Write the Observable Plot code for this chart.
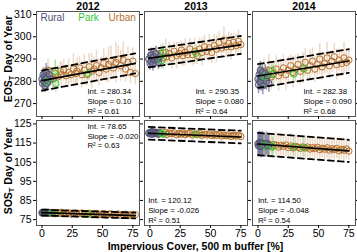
<!DOCTYPE html>
<html><head><meta charset="utf-8">
<script src="https://cdn.jsdelivr.net/npm/d3@7"></script>
<script src="https://cdn.jsdelivr.net/npm/@observablehq/plot@0.6"></script>
<style>
html,body{margin:0;padding:0;background:#fff;}
#chart svg{display:block;overflow:visible;}
</style></head><body><div id="chart"></div>
<script>
const years = ["2012", "2013", "2014"];
const groups = ["Rural", "Park", "Urban"];
const xTicks = [0, 25, 50, 75];
const eosTicks = [270, 280, 290, 300, 310];
const sosTicks = [75, 85, 95, 105, 115, 125];

// ---- 2012 ----
const urbanX12 = [5,7,9,11,13,15,16,18,20,22,24,26,28,29,31,33,35,37,39,41,43,45,47,49,51,53,55,57,59,61,63,65,67,69,71,73,75,77];
const eosU12 = [285.0,282.5,281.0,283.5,282.0,284.5,283.0,285.0,282.5,284.0,283.0,285.5,283.5,284.5,286.0,283.0,285.0,283.0,286.5,284.5,285.5,287.0,284.0,286.0,288.0,285.5,287.5,289.0,286.0,288.5,290.0,287.0,289.5,285.5,288.5,284.0,289.0,283.5];
const eosUe12 = [5,4,5,6,5,4,6,5,5,6,4,7,5,6,5,6,7,5,6,8,5,7,6,5,7,6,8,7,5,9,6,7,8,6,7,5,6,5];
const sosU12 = [78.9,78.3,78.7,78.1,78.6,78.2,78.8,78.0,78.4,78.6,77.9,78.3,78.5,77.8,78.2,78.4,77.7,78.1,78.3,77.6,78.0,78.2,77.5,77.9,78.1,77.4,77.8,78.0,77.3,77.7,77.9,77.2,77.6,77.8,77.1,77.5,77.7,77.6];
const sosUe12 = [1.2,1,1.3,1,1.1,1.2,1,1.3,1.1,1,1.2,1,1.3,1.1,1,1.2,1.1,1,1.3,1.2,1,1.1,1.2,1,1.3,1.1,1,1.2,1.1,1,1.2,1.3,1,1.1,1.2,1,1.1,1.2];
const ruralX12 = [0,0.5,1,1.5,2,2.5,3,3.5,4,4.5,5,6,7];
const eosR12 = [281,279,283,280,282,278,281,284,279,282,280,283,281];
const eosRe12 = [3,4,3,3,4,3,3,4,3,3,4,3,3];
const sosR12 = [78.6,78.3,78.8,78.5,78.7,78.4,78.9,78.5,78.6,78.3,78.7,78.5,78.6];
const sosRe12 = [0.8,0.9,0.8,0.8,0.9,0.8,0.8,0.9,0.8,0.8,0.9,0.8,0.8];
const parkX12 = [4,11,11.5,38];
const eosP12 = [280,284.5,279,283.5];
const eosPe12 = [4,5,4,3];
const sosP12 = [78.4,78.3,78.2,78.0];
const sosPe12 = [0.8,0.8,0.8,0.8];

// ---- 2013 ----
const urbanX13 = [5,7,9,11,13,14,16,18,20,22,24,26,27,29,31,33,35,37,39,41,43,45,47,49,51,53,55,57,59,61,63,65,67,69,71,73,75];
const eosU13 = [292.0,290.0,292.5,290.5,293.0,291.0,292.5,290.5,293.5,291.5,292.5,294.0,291.5,293.0,292.0,294.5,292.0,293.5,291.5,294.5,293.0,295.5,293.5,295.0,293.0,296.0,294.5,297.5,295.0,298.5,295.5,297.0,295.5,297.5,296.0,298.0,296.5];
const eosUe13 = [4,5,4,5,6,4,5,5,4,6,5,4,5,6,4,5,5,6,4,5,6,5,4,6,5,5,6,5,4,6,5,5,6,4,5,5,4];
const sosU13 = [120.5,119.6,120.3,119.8,120.6,119.5,120.2,119.9,120.4,119.3,120.0,119.7,120.3,119.4,119.9,120.1,119.2,119.8,119.5,120.0,119.1,119.6,119.3,119.8,118.9,119.4,119.1,119.6,118.7,119.2,118.9,119.3,118.5,119.0,118.7,119.1,118.4];
const sosUe13 = [2.5,3,2,2.5,3,2.5,2,3,2.5,2,3,2.5,2,3,2.5,2.5,3,2,2.5,3,2.5,2,3,2.5,2,3,2.5,2,3,2.5,2.5,3,2,2.5,3,2.5,2];
const ruralX13 = [-1,0,0.5,1,1.5,2,2.5,3,4,5,6,7,8];
const eosR13 = [290,288,291.5,289,292,290.5,287.5,291,289.5,292.5,290,288.5,291];
const eosRe13 = [3,3,3,3,3,3,3,3,3,3,3,3,3];
const sosR13 = [120.3,119.8,120.6,120.1,121,119.6,120.4,120.8,119.9,120.5,120.2,119.7,120.3];
const sosRe13 = [1.8,1.8,1.8,1.8,1.8,1.8,1.8,1.8,1.8,1.8,1.8,1.8,1.8];
const parkX13 = [9.6,10.7,38];
const eosP13 = [289.3,293,292.6];
const eosPe13 = [4,4,4];
const sosP13 = [120,119.8,119.5];
const sosPe13 = [2,2,2];

// ---- 2014 ----
const urbanX14 = [5,7,9,11,13,15,17,19,21,23,25,27,29,31,33,35,37,39,41,43,45,47,49,51,53,55,57,59,61,63,65,67,69,71,73,75];
const eosU14 = [284.5,281.5,285.0,282.0,283.5,285.5,282.5,284.0,286.0,283.0,285.0,287.0,284.0,285.5,287.5,284.5,286.0,288.5,285.0,287.0,289.0,285.5,287.5,290.0,286.5,288.0,290.5,287.0,289.0,291.0,287.5,289.5,288.0,290.5,288.5,289.5];
const eosUe14 = [6,5,7,6,5,6,7,5,6,7,6,5,7,6,5,6,7,6,5,7,6,6,5,7,6,5,7,6,5,6,7,5,6,7,6,5];
const sosU14 = [114.8,113.6,114.5,113.2,114.2,113.9,112.9,113.8,113.3,114.0,112.7,113.5,112.5,113.3,112.8,112.2,113.0,112.4,112.9,111.9,112.6,112.1,112.8,111.6,112.3,111.8,112.5,111.3,112.0,111.6,112.2,111.0,111.7,111.3,111.9,110.8];
const sosUe14 = [5,6,5.5,6,5,6.5,5.5,6,5,6,5.5,6.5,5,6,5.5,6,5,6.5,5.5,6,5,6,5.5,6.5,5,6,5.5,6,5,6.5,5.5,6,5,6,5.5,5];
const ruralX14 = [0,0.5,1,1.5,2,2.5,3,3.5,4,5,6,7,8,9];
const eosR14 = [281,278.5,283,280,285,279.5,282,284,278,281.5,283.5,280,282.5,279];
const eosRe14 = [4,4,4,4,4,4,4,4,4,4,4,4,4,4];
const sosR14 = [114.5,113.5,115.2,114,114.8,113.2,114.6,115,113.8,114.3,113.6,114.9,114.1,113.7];
const sosRe14 = [6,6,6,6,6,6,6,6,6,6,6,6,6,6];
const parkX14 = [5,11.9,12,29.6,37.8];
const eosP14 = [282,284.8,283.1,283.3,285.6];
const eosPe14 = [4,4,4,4,4];
const sosP14 = [113.8,112.9,113.3,113,112.6];
const sosPe14 = [5,5,5,5,5];

// ---- fit statistics ----
const eosInt = [280.34, 290.35, 282.38];
const eosSlope = [0.10, 0.080, 0.090];
const eosSlopeTxt = ["0.10", "0.080", "0.090"];
const eosR2 = ["0.61", "0.64", "0.68"];
const eosBand = [4.5, 4.0, 5.3];
const sosInt = [78.65, 120.12, 114.50];
const sosSlope = [-0.020, -0.026, -0.048];
const sosSlopeTxt = ["-0.020", "-0.026", "-0.048"];
const sosR2 = ["0.63", "0.51", "0.54"];
const sosBand = [1.5, 3.3, 5.8];

// ---- build tables ----
function rows(year, group, xs, ys, es) { return xs.map((x, i) => ({year, group, x, y: ys[i], e: es[i]})); }
const eosData = [
  ...rows("2012","Rural",ruralX12,eosR12,eosRe12), ...rows("2012","Park",parkX12,eosP12,eosPe12), ...rows("2012","Urban",urbanX12,eosU12,eosUe12),
  ...rows("2013","Rural",ruralX13,eosR13,eosRe13), ...rows("2013","Park",parkX13,eosP13,eosPe13), ...rows("2013","Urban",urbanX13,eosU13,eosUe13),
  ...rows("2014","Rural",ruralX14,eosR14,eosRe14), ...rows("2014","Park",parkX14,eosP14,eosPe14), ...rows("2014","Urban",urbanX14,eosU14,eosUe14)
];
const sosData = [
  ...rows("2012","Rural",ruralX12,sosR12,sosRe12), ...rows("2012","Park",parkX12,sosP12,sosPe12), ...rows("2012","Urban",urbanX12,sosU12,sosUe12),
  ...rows("2013","Rural",ruralX13,sosR13,sosRe13), ...rows("2013","Park",parkX13,sosP13,sosPe13), ...rows("2013","Urban",urbanX13,sosU13,sosUe13),
  ...rows("2014","Rural",ruralX14,sosR14,sosRe14), ...rows("2014","Park",parkX14,sosP14,sosPe14), ...rows("2014","Urban",urbanX14,sosU14,sosUe14)
];
const xExtent = {
  "2012": d3.extent([...ruralX12, ...parkX12, ...urbanX12]),
  "2013": d3.extent([...ruralX13, ...parkX13, ...urbanX13]),
  "2014": d3.extent([...ruralX14, ...parkX14, ...urbanX14])
};
function fitRows(ints, slopes, bands, off) {
  return years.flatMap((year, i) => xExtent[year].map(x => ({year, x, y: ints[i] + slopes[i] * x + off * bands[i]})));
}
function statRows(ints, slopesTxt, r2) {
  return years.map((year, i) => ({year, text: `Int. = ${ints[i].toFixed(2)}\nSlope = ${slopesTxt[i]}\nR² = ${r2[i]}`}));
}
const eosStats = statRows(eosInt, eosSlopeTxt, eosR2);
const sosStats = statRows(sosInt, sosSlopeTxt, sosR2);

const colors = {Rural: "#4f4f72", Park: "#2ec82e", Urban: "#b5702c"};
const errColors = {Rural: "#6e6e92", Park: "#86e086", Urban: "#dcb48e"};
const font = "'Liberation Sans', Arial, sans-serif";

function dataMarks(data, ints, slopes, bands) {
  const byG = g => data.filter(d => d.group === g);
  const marks = [];
  for (const g of ["Urban", "Rural", "Park"]) {
    marks.push(Plot.ruleX(byG(g), {fx: "year", x: "x", y1: d => d.y - d.e, y2: d => d.y + d.e,
      stroke: errColors[g], strokeOpacity: g === "Rural" ? 0.7 : 0.5, strokeWidth: 1.5}));
  }
  for (const g of ["Urban", "Rural", "Park"]) {
    marks.push(Plot.dot(byG(g), {fx: "year", x: "x", y: "y", r: 3.2, stroke: colors[g], strokeWidth: 1,
      fill: g === "Rural" ? "#8a8aa8" : "none", fillOpacity: 0.35}));
  }
  for (const off of [1, -1]) {
    marks.push(Plot.line(fitRows(ints, slopes, bands, off), {fx: "year", x: "x", y: "y", stroke: "#000", strokeWidth: 1.8, strokeDasharray: "6,4"}));
  }
  marks.push(Plot.line(fitRows(ints, slopes, bands, 0), {fx: "year", x: "x", y: "y", stroke: "#000", strokeWidth: 1.7}));
  return marks;
}

const common = {
  width: 357, marginLeft: 36, marginRight: 2,
  fx: {domain: years, paddingInner: 0.047, paddingOuter: 0, label: null},
  x: {domain: [-4.5, 80.5]},
  style: {fontFamily: font, fontSize: "10.5px", color: "#000", background: "transparent", overflow: "visible"}
};

const topPlot = Plot.plot({
  ...common,
  height: 119, marginTop: 11, marginBottom: 3,
  y: {domain: [264.2, 311.35]},
  marks: [
    ...dataMarks(eosData, eosInt, eosSlope, eosBand),
    Plot.frame({stroke: "#555", strokeWidth: 1}),
    Plot.axisFx({anchor: "top", tickSize: 0, tickPadding: 2, label: null, fontWeight: "bold", fontSize: 10.5}),
    Plot.axisY({ticks: eosTicks, tickSize: 3, tickPadding: 2, label: null}),
    Plot.axisY({anchor: "right", ticks: eosTicks, tickSize: 3, tickFormat: () => "", label: null, facetAnchor: null}),
    Plot.axisX({ticks: xTicks, tickSize: 3, tickFormat: () => "", label: null, facetAnchor: null}),
    Plot.text(eosStats, {fx: "year", x: 37.5, frameAnchor: "bottom", text: "text", textAnchor: "start", lineAnchor: "bottom", dy: -3, fontSize: 7.8, lineHeight: 1.22}),
    Plot.text([{year: "2012", g: "Rural"}], {fx: "year", x: -1.2, frameAnchor: "top", text: "g", textAnchor: "start", lineAnchor: "top", dy: 2, fontSize: 10, fill: colors.Rural}),
    Plot.text([{year: "2012", g: "Park"}], {fx: "year", x: 30, frameAnchor: "top", text: "g", textAnchor: "start", lineAnchor: "top", dy: 2, fontSize: 10, fill: colors.Park}),
    Plot.text([{year: "2012", g: "Urban"}], {fx: "year", x: 55, frameAnchor: "top", text: "g", textAnchor: "start", lineAnchor: "top", dy: 2, fontSize: 10, fill: colors.Urban})
  ]
});

const bottomPlot = Plot.plot({
  ...common,
  height: 133, marginTop: 1, marginBottom: 27,
  y: {domain: [71.9, 126.8]},
  marks: [
    ...dataMarks(sosData, sosInt, sosSlope, sosBand),
    Plot.frame({stroke: "#555", strokeWidth: 1}),
    Plot.axisFx({anchor: "top", ticks: [], label: null, tickSize: 0, tickFormat: () => ""}),
    Plot.axisY({ticks: sosTicks, tickSize: 3, tickPadding: 2, label: null}),
    Plot.axisY({anchor: "right", ticks: sosTicks, tickSize: 3, tickFormat: () => "", label: null, facetAnchor: null}),
    Plot.axisX({ticks: xTicks, tickSize: 3, tickPadding: 1, label: null, facetAnchor: null}),
    Plot.text(sosStats.filter(d => d.year === "2012"), {fx: "year", x: 37.5, frameAnchor: "top", text: "text", textAnchor: "start", lineAnchor: "top", dy: 2, fontSize: 7.8, lineHeight: 1.22}),
    Plot.text(sosStats.filter(d => d.year === "2013"), {fx: "year", x: -1.5, frameAnchor: "bottom", text: "text", textAnchor: "start", lineAnchor: "bottom", dy: -3, fontSize: 7.8, lineHeight: 1.22}),
    Plot.text(sosStats.filter(d => d.year === "2014"), {fx: "year", x: 0, frameAnchor: "bottom", text: "text", textAnchor: "start", lineAnchor: "bottom", dy: -3, fontSize: 7.8, lineHeight: 1.22})
  ]
});

function yLabel(svg, name, cy) {
  const t = d3.select(svg).append("text")
    .attr("transform", `translate(11.5,${cy}) rotate(-90)`)
    .attr("text-anchor", "middle").attr("font-weight", "bold").attr("font-size", 10.5)
    .attr("font-family", font).attr("fill", "#000");
  t.append("tspan").text(name);
  t.append("tspan").attr("dy", 2.5).attr("font-size", 7.5).text("T");
  t.append("tspan").attr("dy", -2.5).text(" Day of Year");
}
yLabel(topPlot, "EOS", 59);
yLabel(bottomPlot, "SOS", 52);
d3.select(bottomPlot).append("text")
  .attr("x", 195.5).attr("y", 130.5).attr("text-anchor", "middle")
  .attr("font-weight", "bold").attr("font-size", 10.5).attr("font-family", font).attr("fill", "#000")
  .text("Impervious Cover, 500 m buffer [%]");

document.getElementById("chart").append(topPlot, bottomPlot);
</script></body></html>
